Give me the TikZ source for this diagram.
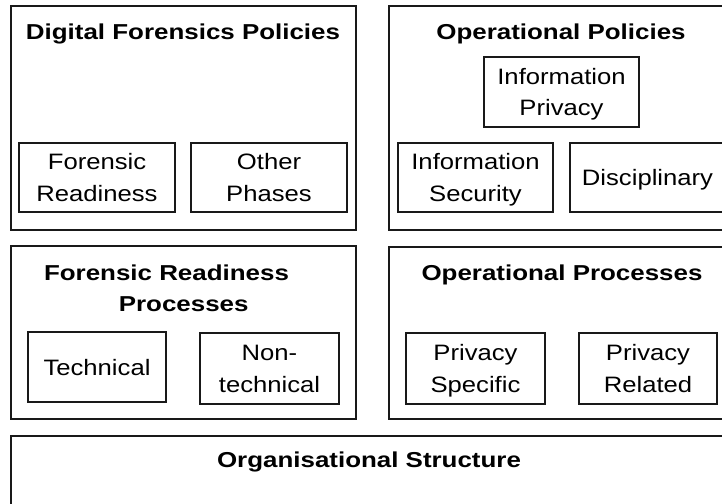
\documentclass[tikz,border=0pt]{standalone}
\usepackage{fontspec}
\setmainfont[FakeStretch=1.15,BoldFeatures={FakeStretch=1.2}]{Liberation Sans}
\begin{document}
\begin{tikzpicture}[x=1pt,y=-1pt,
  outerbox/.style={draw=black!90,line width=1.6pt,rectangle,inner sep=0pt},
  innerbox/.style={draw=black!90,line width=1.3pt,rectangle,inner sep=0pt,align=center,
    text depth=0pt,font=\fontsize{22.3}{31.7}\selectfont},
  titletext/.style={anchor=base,inner sep=0pt,font=\fontsize{21.6}{31.7}\selectfont\bfseries}]
\useasboundingbox (0,0) rectangle (722,503);
% outer boxes
\node[outerbox,minimum width=345pt,minimum height=224pt] (dfp) at (183.5,118) {};
\node[outerbox,minimum width=344pt,minimum height=224pt] (op) at (561,118) {};
\node[outerbox,minimum width=345pt,minimum height=173pt] (frp) at (183.5,332.5) {};
\node[outerbox,minimum width=344pt,minimum height=172pt] (opr) at (561,333) {};
\node[outerbox,minimum width=724pt,minimum height=95pt] (org) at (373,483.5) {};
% titles
\node[titletext] (dfpT) at (183,39.3) {Digital Forensics Policies};
\node[titletext] (opT) at (561,39.3) {Operational Policies};
\node[titletext] (frpT1) at (166.5,280) {Forensic Readiness};
\node[titletext] (frpT2) at (183.7,311.7) {Processes};
\node[titletext] (oprT) at (562,280) {Operational Processes};
\node[titletext] (orgT) at (369,467) {Organisational Structure};
% inner boxes
\node[innerbox,minimum width=156pt,minimum height=69pt] (fr) at (97,177.5) {Forensic\\Readiness};
\node[innerbox,minimum width=156pt,minimum height=69pt] (other) at (269,177.5) {Other\\Phases};
\node[innerbox,minimum width=155pt,minimum height=70pt] (ip) at (561.5,92) {Information\\Privacy};
\node[innerbox,minimum width=155pt,minimum height=69pt] (is) at (475.5,177.5) {Information\\Security};
\node[innerbox,minimum width=155pt,minimum height=69pt] (disc) at (647.5,177.5) {Disciplinary};
\node[innerbox,minimum width=138pt,minimum height=70pt] (tech) at (97,367) {Technical};
\node[innerbox,minimum width=139pt,minimum height=71pt] (nontech) at (269.5,368.5) {Non-\\technical};
\node[innerbox,minimum width=139pt,minimum height=71pt] (ps) at (475.5,368.5) {Privacy\\Specific};
\node[innerbox,minimum width=138pt,minimum height=71pt] (pr) at (648,368.5) {Privacy\\Related};
\end{tikzpicture}
\end{document}
